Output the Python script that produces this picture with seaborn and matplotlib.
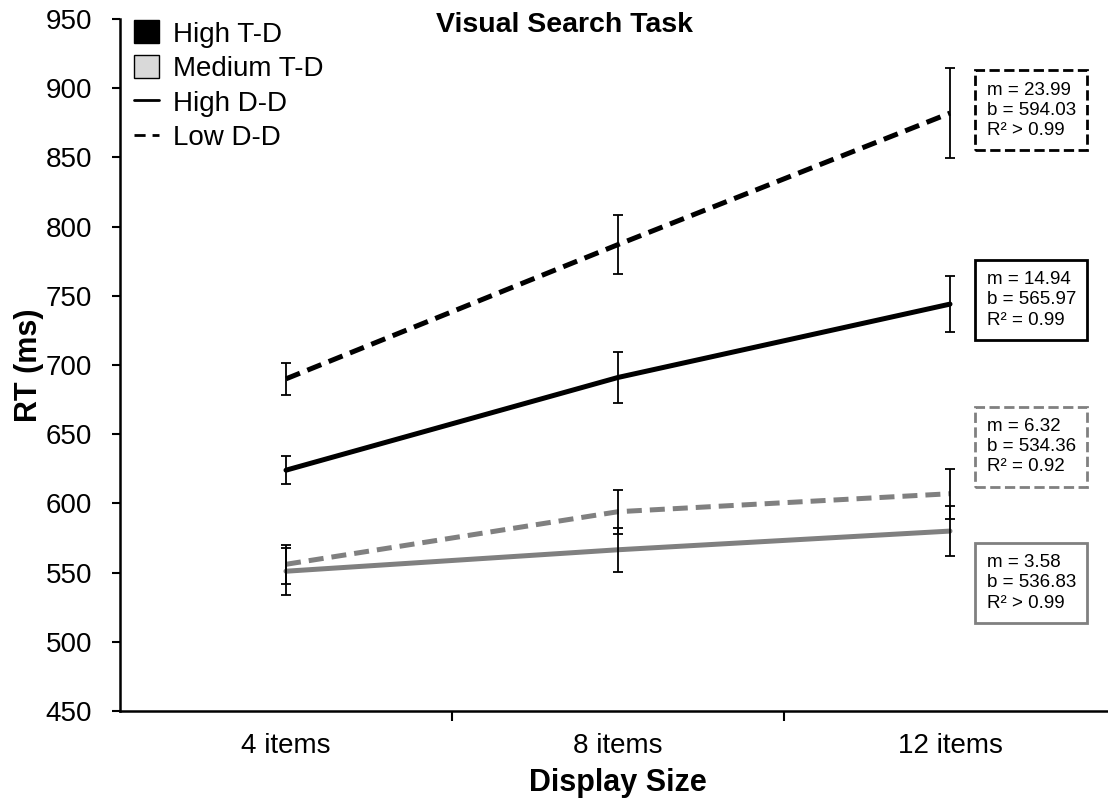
import numpy as np
import pandas as pd
import matplotlib
matplotlib.use("Agg")
import matplotlib.pyplot as plt
import seaborn as sns
from matplotlib.patches import Patch
from matplotlib.lines import Line2D

# data
sizes = ["4 items", "8 items", "12 items"]
high_td_high_dd = [624, 691, 744]
high_td_high_dd_err = [10, 18.5, 20]
high_td_low_dd = [690, 787, 882]
high_td_low_dd_err = [11.5, 21.5, 32.5]
med_td_low_dd = [556, 594, 607]
med_td_low_dd_err = [14, 16, 18]
med_td_high_dd = [551, 566.5, 580]
med_td_high_dd_err = [17, 16, 18]

fit_labels = [
    "m = 23.99\nb = 594.03\nR\u00b2 > 0.99",
    "m = 14.94\nb = 565.97\nR\u00b2 = 0.99",
    "m = 6.32\nb = 534.36\nR\u00b2 = 0.92",
    "m = 3.58\nb = 536.83\nR\u00b2 > 0.99",
]
fit_label_y = [884, 747, 641, 542.5]

series = [
    ("High T-D", "High D-D", high_td_high_dd, high_td_high_dd_err),
    ("High T-D", "Low D-D", high_td_low_dd, high_td_low_dd_err),
    ("Medium T-D", "Low D-D", med_td_low_dd, med_td_low_dd_err),
    ("Medium T-D", "High D-D", med_td_high_dd, med_td_high_dd_err),
]

rows = []
for td, dd, vals, errs in series:
    for i, (v, e) in enumerate(zip(vals, errs)):
        rows.append({"pos": i, "size": sizes[i], "rt": v, "err": e, "td": td, "dd": dd})
df = pd.DataFrame(rows)

sns.set_style("ticks")
plt.rcParams["font.family"] = ["Liberation Sans", "DejaVu Sans"]
plt.rcParams["text.color"] = "black"
plt.rcParams["axes.labelcolor"] = "black"
plt.rcParams["xtick.color"] = "black"
plt.rcParams["ytick.color"] = "black"

td_colors = {"High T-D": "black", "Medium T-D": "#808080"}
dd_dashes = {"High D-D": "", "Low D-D": (3, 1.6)}

fig = plt.figure(figsize=(11.08, 8.09), dpi=100)
ax = fig.add_axes([120 / 1108, 1 - 711 / 809, 996 / 1108, 692 / 809])

sns.lineplot(data=df, x="pos", y="rt", hue="td", style="dd",
             palette=td_colors, dashes=dd_dashes, linewidth=3.6,
             legend=False, ax=ax, zorder=2)

# error bars on top of the lines
ax.errorbar(df["pos"], df["rt"], yerr=df["err"], fmt="none", ecolor="black",
            elinewidth=1.3, capsize=3.3, capthick=1.3, zorder=3)

ax.set_xlim(-0.5, 2.5)
ax.set_ylim(450, 950)
ax.set_yticks(np.arange(450, 951, 50))
ax.set_xticks(range(len(sizes)))
ax.set_xticklabels(sizes)
ax.set_xticks([0.5, 1.5], minor=True)
ax.tick_params(axis="x", which="major", length=0, pad=16, labelsize=20)
ax.tick_params(axis="x", which="minor", length=7.5, width=1.5, direction="out")
ax.tick_params(axis="y", length=6, width=1.5, pad=14, labelsize=20)
for side in ["top", "right"]:
    ax.spines[side].set_visible(False)
for side in ["left", "bottom"]:
    ax.spines[side].set_linewidth(1.8)
    ax.spines[side].set_color("black")

ax.set_xlabel("Display Size", fontsize=22, fontweight="bold", labelpad=6)
ax.set_ylabel("RT (ms)", fontsize=22, fontweight="bold", labelpad=1)

# regression summary boxes
box_styles = [("black", "--"), ("black", "-"), ("#808080", "--"), ("#808080", "-")]
for txt, yv, (ec, ls) in zip(fit_labels, fit_label_y, box_styles):
    ax.text(2.11, yv, txt, ha="left", va="center", fontsize=13.5, linespacing=1.25,
            bbox=dict(boxstyle="square,pad=0.6", fc="white", ec=ec, lw=2, ls=ls))

handles = [
    Patch(facecolor="black", edgecolor="black", label="High T-D"),
    Patch(facecolor="#d9d9d9", edgecolor="black", label="Medium T-D"),
    Line2D([], [], color="black", lw=2, label="High D-D"),
    Line2D([], [], color="black", lw=2, ls=(0, (4, 2.5)), label="Low D-D"),
]
ax.legend(handles=handles, loc="upper left", bbox_to_anchor=(0.0, 1.018),
          frameon=False, fontsize=20, handlelength=0.9, handleheight=0.9,
          handletextpad=0.5, labelspacing=0.27, borderaxespad=0.1)

fig.text(565 / 1108, 1 - 25 / 809, "Visual Search Task", ha="center", va="center",
         fontsize=20.5, fontweight="bold")

fig.savefig("out.png", dpi=100)
